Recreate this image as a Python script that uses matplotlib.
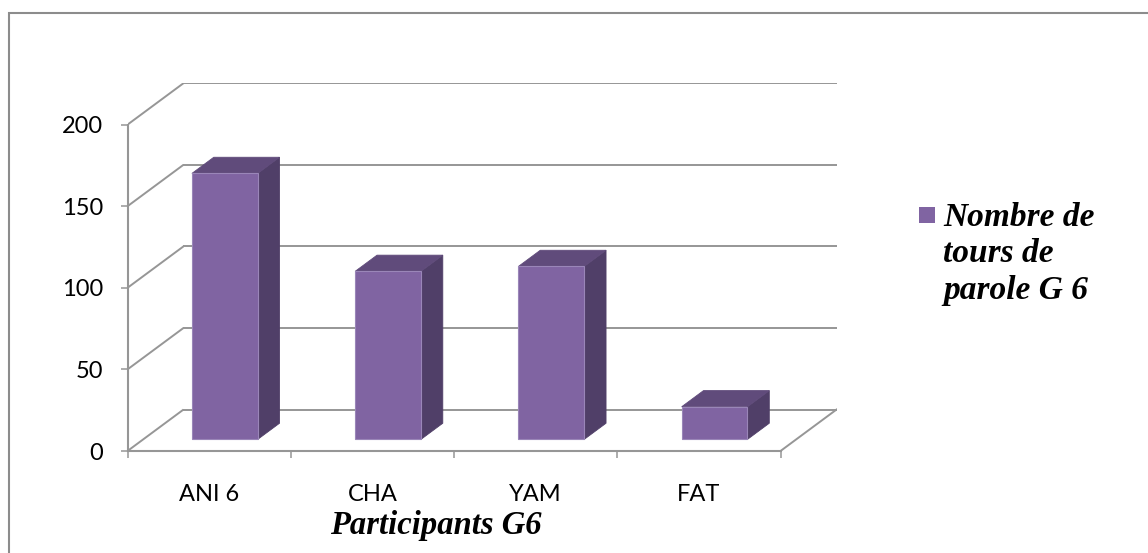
import matplotlib
matplotlib.use("Agg")
import matplotlib.pyplot as plt
from matplotlib.patches import Polygon, Rectangle

# ---- data ----
participants = ["ANI 6", "CHA", "YAM", "FAT"]
tours_de_parole = [163, 103, 106, 20]
y_ticks = [0, 50, 100, 150, 200]
series_label = "Nombre de\ntours de\nparole G 6"
x_title = "Participants G6"

# ---- style ----
FRONT = "#8064A2"
TOP = "#604B7B"
SIDE = "#503F68"
EDGE = "#9A86B8"
GRID = "#969696"
SANS = ["Lato", "DejaVu Sans"]
SERIF = ["Liberation Serif", "DejaVu Serif"]

W, H = 1148, 553
fig = plt.figure(figsize=(W / 100, H / 100), dpi=100)
fig.patch.set_facecolor("white")

# oblique depth of the 3D box (category units, value units)
DX, DY = 0.343, 25.4
# bar front / back depth fractions and bar width
F0, F1 = 0.28, 0.67
BW = 0.403
ncat = len(participants)
ymax = y_ticks[-1]

ax = fig.add_axes([127.5 / W, (H - 451) / H, (836.5 - 127.5) / W, (451 - 83.2) / H])
ax.set_xlim(0, ncat + DX)
ax.set_ylim(0, ymax + DY)
ax.patch.set_alpha(0)

# walls: side-wall diagonals and back-wall gridlines
for v in y_ticks:
    ax.plot([0, DX], [v, v + DY], color=GRID, lw=1.4, zorder=1, solid_capstyle="butt")
    ax.plot([DX, ncat + DX], [v + DY, v + DY], color=GRID, lw=1.4, zorder=1,
            solid_capstyle="butt")
# right edge of the floor
ax.plot([ncat, ncat + DX], [0, DY], color=GRID, lw=1.4, zorder=1)

# bars drawn as oblique boxes
for i, val in enumerate(tours_de_parole):
    c = i + 0.5
    xl = c - BW / 2 + F0 * DX
    xr = c + BW / 2 + F0 * DX
    yb = F0 * DY
    yt = yb + val
    ddx = (F1 - F0) * DX
    ddy = (F1 - F0) * DY
    side = Polygon([(xr, yb), (xr + ddx, yb + ddy), (xr + ddx, yt + ddy), (xr, yt)],
                   closed=True, facecolor=SIDE, edgecolor=SIDE, lw=0.6, zorder=3)
    top = Polygon([(xl, yt), (xr, yt), (xr + ddx, yt + ddy), (xl + ddx, yt + ddy)],
                  closed=True, facecolor=TOP, edgecolor=TOP, lw=0.6, zorder=3)
    front = Rectangle((xl, yb), xr - xl, val, facecolor=FRONT, edgecolor=EDGE,
                      lw=0.8, zorder=4)
    for p in (side, top, front):
        ax.add_patch(p)

# axes lines
for s in ("top", "right"):
    ax.spines[s].set_visible(False)
ax.spines["left"].set_bounds(0, ymax)
ax.spines["bottom"].set_bounds(0, ncat)
for s in ("left", "bottom"):
    ax.spines[s].set_color(GRID)
    ax.spines[s].set_linewidth(1.5)

ax.set_yticks(y_ticks)
ax.set_yticklabels([str(v) for v in y_ticks])
ax.tick_params(axis="y", direction="out", length=5.4, width=1.1, color=GRID,
               pad=12, labelsize=17, labelcolor="black")

ax.set_xticks(range(ncat + 1))
ax.set_xticklabels([])
ax.tick_params(axis="x", which="major", direction="out", length=5, width=1.1, color=GRID)
ax.set_xticks([i + 0.5 for i in range(ncat)], minor=True)
ax.set_xticklabels(participants, minor=True)
ax.tick_params(axis="x", which="minor", length=0, pad=24, labelsize=17,
               labelcolor="black")
for lab in ax.get_xticklabels(minor=True) + ax.get_yticklabels():
    lab.set_family(SANS)

ax.set_xlabel(x_title, family=SERIF, fontsize=23.5, fontweight="bold",
              fontstyle="italic", va="baseline")
ax.xaxis.set_label_coords((436 - 127.5) / (836.5 - 127.5), -(534 - 451) / (451 - 83.2))

# legend entry
fig.add_artist(Rectangle((919 / W, (H - 222.5) / H), 16 / W, 16 / H,
                         transform=fig.transFigure, facecolor=FRONT, edgecolor="none"))
for k, line in enumerate(series_label.split("\n")):
    fig.text(943 / W, (H - (226 + 36.5 * k)) / H, line, family=SERIF, fontsize=24,
             fontweight="bold", fontstyle="italic", va="baseline", ha="left")

# chart-area border
fig.add_artist(Rectangle((9 / W, -0.1), 1.2, (H - 13.5) / H + 0.1,
                         transform=fig.transFigure, fill=False, edgecolor="#8C8C8C",
                         lw=1.5, clip_on=False))

fig.savefig("out.png", dpi=100, facecolor="white")
